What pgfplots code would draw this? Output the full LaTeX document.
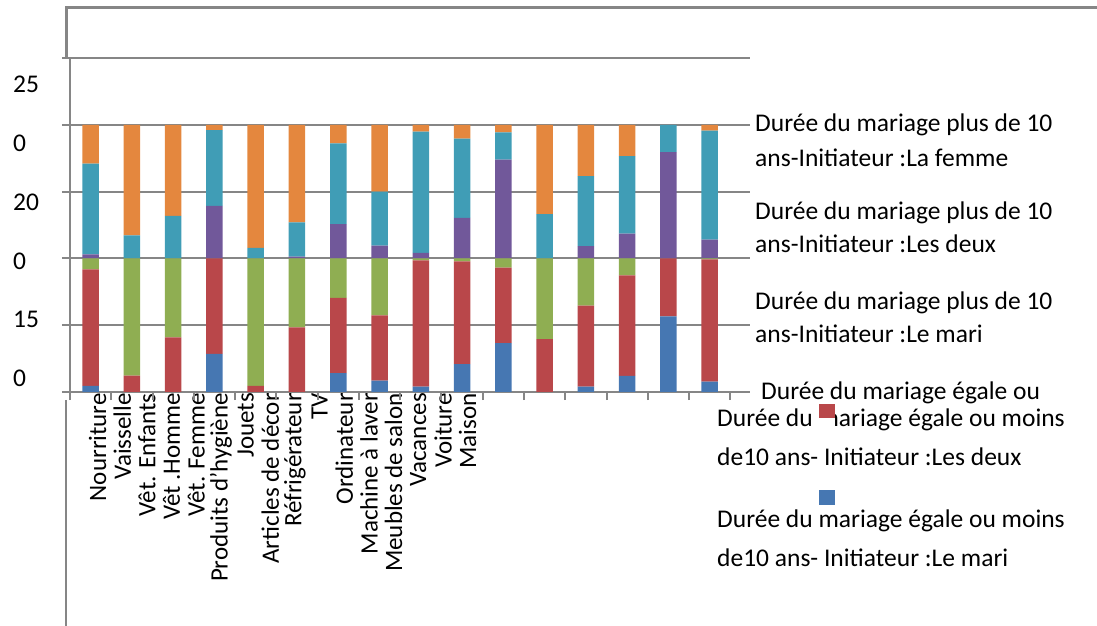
\documentclass[border=0pt]{standalone}
\usepackage{pgfplots}
\pgfplotsset{compat=1.18}
\usepackage{fontspec}
\setmainfont{Carlito}
\definecolor{sBlue}{HTML}{4677B2}
\definecolor{sRed}{HTML}{B9474A}
\definecolor{sGreen}{HTML}{8FAE52}
\definecolor{sPurple}{HTML}{71589A}
\definecolor{sTeal}{HTML}{409DB6}
\definecolor{sOrange}{HTML}{E4873E}
\definecolor{axgray}{RGB}{134,134,134}
\begin{document}
\begin{tikzpicture}[x=1pt,y=1pt]
\useasboundingbox (0,0) rectangle (1097,626);
% outer frame lines
\draw[axgray, line width=3pt] (66,568) -- (66,618) -- (1097,618);
\draw[axgray, line width=2.5pt] (66,226) -- (66,0);
\begin{axis}[
  at={(70pt,234pt)}, anchor=south west,
  scale only axis, width=680pt, height=334pt,
  xmin=-0.5, xmax=15.977, ymin=0, ymax=250,
  ybar stacked, bar width=16.5pt,
  axis x line*=bottom, axis y line*=left,
  axis line style={-, draw=axgray, line width=2.5pt},
  tick align=outside,
  major tick length=0pt,
  ytick={10.5,54.6,98.1,142.2,186.4,230.5},
  yticklabels={0,15,0,20,0,25},
  yticklabel style={anchor=west, xshift=-57pt, inner sep=0pt, font=\fontsize{25.5}{28}\selectfont},
  extra y ticks={0,50,100,150,200,250},
  extra y tick labels={},
  extra y tick style={grid=major, major tick length=8pt, tick style={draw=axgray, line width=2pt}},
  grid style={draw=axgray, line width=2pt},
  xtick={0.170,0.768,1.365,1.963,2.561,3.158,3.756,4.354,4.952,5.549,6.147,6.745,7.342,7.940,8.538,9.135},
  xticklabels={Nourriture,Vaisselle,Vêt. Enfants,Vêt .Homme,Vêt. Femme,Produits d'hygiène,Jouets,Articles de décor,Réfrigérateur,TV,Ordinateur,Machine à laver,Meubles de salon,Vacances,Voiture,Maison},
  xticklabel style={rotate=90, anchor=east, inner sep=1pt, font=\fontsize{25}{28}\selectfont},
  extra x ticks={-0.5,0.5,1.5,2.5,3.5,4.5,5.5,6.5,7.5,8.5,9.5,10.5,11.5,12.5,13.5,14.5,15.5},
  extra x tick labels={},
  extra x tick style={major tick length=8pt, tick style={draw=axgray, line width=2pt}},
  every axis plot/.append style={draw=none},
  clip=false,
]
\addplot[fill=sBlue] coordinates {(0,4.5) (1,0) (2,0) (3,28.6) (4,0) (5,0) (6,14.1) (7,8.5) (8,4.0) (9,20.8) (10,36.6) (11,0) (12,4.0) (13,12.0) (14,56.6) (15,7.7)};
\addplot[fill=sRed] coordinates {(0,87.2) (1,12.3) (2,40.8) (3,71.4) (4,4.5) (5,48.3) (6,56.3) (7,48.9) (8,94.5) (9,76.9) (10,56.4) (11,39.6) (12,60.7) (13,75.2) (14,43.4) (15,91.5)};
\addplot[fill=sGreen] coordinates {(0,8.3) (1,87.7) (2,59.2) (3,0) (4,95.5) (5,51.7) (6,29.6) (7,42.6) (8,1.5) (9,2.3) (10,7.0) (11,60.4) (12,35.3) (13,12.8) (14,0) (15,0.8)};
\addplot[fill=sPurple] coordinates {(0,3.0) (1,0) (2,0) (3,39.3) (4,0) (5,1.3) (6,25.7) (7,9.6) (8,4.2) (9,30.4) (10,73.9) (11,0) (12,9.1) (13,18.5) (14,79.5) (15,14.1)};
\addplot[fill=sTeal] coordinates {(0,67.9) (1,17.3) (2,31.9) (3,56.8) (4,7.9) (5,25.6) (6,60.4) (7,40.3) (8,90.6) (9,59.2) (10,20.4) (11,33.1) (12,52.4) (13,58.0) (14,20.5) (15,81.5)};
\addplot[fill=sOrange] coordinates {(0,29.1) (1,82.7) (2,68.1) (3,3.9) (4,92.1) (5,73.1) (6,13.9) (7,50.1) (8,5.2) (9,10.4) (10,5.7) (11,66.9) (12,38.5) (13,23.5) (14,0) (15,4.4)};
\end{axis}
% legend texts
\begin{scope}[every node/.style={anchor=base west, inner sep=0pt, font=\fontsize{25.5}{30}\selectfont}]
\node at (755,494) {Durée du mariage plus de 10};
\node at (755,459) {ans-Initiateur :La femme};
\node at (755,406) {Durée du mariage plus de 10};
\node at (755,373) {ans-Initiateur :Les deux};
\node at (755,316) {Durée du mariage plus de 10};
\node at (755,283) {ans-Initiateur :Le mari};
\node at (761,226) {Durée du mariage égale ou};
\node at (717,199) {Durée du mariage égale ou moins};
\node at (717,160) {de10 ans- Initiateur :Les deux};
\node at (717,98) {Durée du mariage égale ou moins};
\node at (717,59) {de10 ans- Initiateur :Le mari};
\end{scope}
\fill[white] (819,208) rectangle (835,197);
\fill[sRed] (819,222) rectangle (835,208);
\fill[sBlue] (819,136) rectangle (835,121);
\end{tikzpicture}
\end{document}
